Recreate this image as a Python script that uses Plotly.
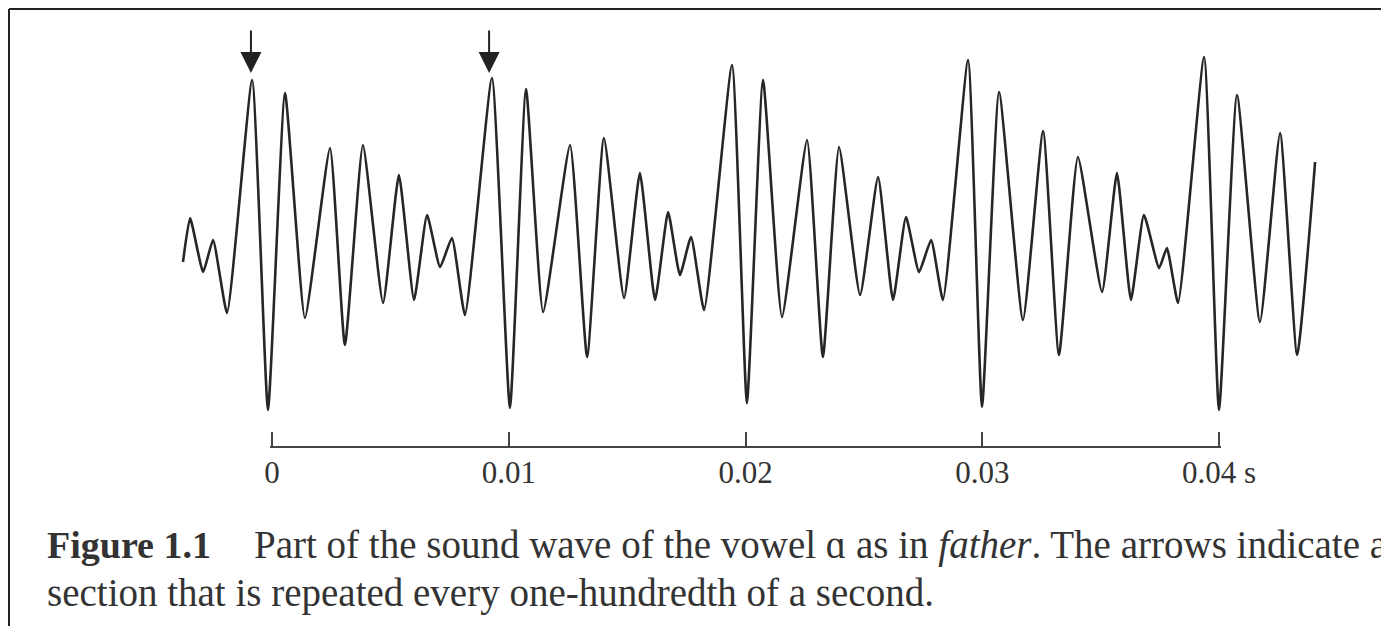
import plotly.graph_objects as go

# ---- data ----
# time of successive turning points of the waveform, in seconds
wave_time = [
    -0.00376, -0.00346, -0.00291, -0.00249, -0.00190, -0.00084, -0.00017, 0.00055,
    0.00139, 0.00245, 0.00308, 0.00384, 0.00469, 0.00536, 0.00600, 0.00655,
    0.00710, 0.00760, 0.00815, 0.00929, 0.01005, 0.01073, 0.01145, 0.01259,
    0.01331, 0.01402, 0.01487, 0.01554, 0.01618, 0.01673, 0.01723, 0.01770,
    0.01825, 0.01943, 0.02006, 0.02074, 0.02154, 0.02260, 0.02327, 0.02395,
    0.02484, 0.02560, 0.02623, 0.02678, 0.02733, 0.02784, 0.02834, 0.02940,
    0.02999, 0.03071, 0.03172, 0.03257, 0.03324, 0.03404, 0.03506, 0.03569,
    0.03628, 0.03683, 0.03747, 0.03780, 0.03827, 0.03937, 0.04000, 0.04076,
    0.04173, 0.04258, 0.04330, 0.04406,
]
# amplitude at those points (arbitrary units)
wave_amp = [
    -17, 27, -27, 5, -68, 165, -165, 152,
    -73, 97, -100, 100, -58, 70, -55, 30,
    -22, 7, -70, 167, -163, 156, -67, 100,
    -112, 107, -53, 72, -55, 33, -30, 8,
    -65, 180, -158, 165, -72, 105, -112, 98,
    -50, 68, -55, 28, -27, 5, -55, 185,
    -162, 153, -75, 114, -110, 88, -47, 72,
    -55, 30, -23, -3, -58, 188, -165, 150,
    -77, 112, -110, 83,
]
tick_values = [0.0, 0.01, 0.02, 0.03, 0.04]
tick_labels = ["0", "0.01", "0.02", "0.03", "0.04 s"]
arrow_times = [-0.00089, 0.00917]
arrow_amp = 172

caption_label = "Figure 1.1"
caption_line1 = "Part of the sound wave of the vowel \u0251 as in <i>father</i>. The arrows indicate a"
caption_line2 = "section that is repeated every one-hundredth of a second."

# ---- figure geometry (page body has an 8px margin) ----
OFF = 8
W, H = 1389 - OFF, 626 - OFF
INK = "#262626"
FONT = "Liberation Serif, Times New Roman, serif"

px_per_s = 23675.0          # horizontal pixels per second
x0_px = 272.0 - OFF         # pixel of t = 0
amp_top = 245.0 - OFF       # amplitude at the top edge (1 unit = 1 px)
axis_y_px = 447.0 - OFF
pad_s = 2.0 / px_per_s      # a little slack so the end ticks are drawn


def py(sy):
    """paper y for a screen-pixel y"""
    return 1 - (sy - OFF) / H


def px(sx):
    return (sx - OFF) / W


fig = go.Figure()
fig.add_trace(go.Scatter(
    x=wave_time, y=wave_amp, mode="lines",
    line=dict(color=INK, width=2.6, shape="spline", smoothing=0.45),
    hoverinfo="skip", showlegend=False,
))
# carrier trace for the time axis
fig.add_trace(go.Scatter(
    x=[tick_values[0], tick_values[-1]], y=[None, None], mode="lines",
    xaxis="x2", yaxis="y", hoverinfo="skip", showlegend=False,
))

for t in arrow_times:
    fig.add_annotation(
        x=t, y=arrow_amp, xref="x", yref="y", text="",
        showarrow=True, arrowhead=2, arrowsize=2.1, arrowwidth=2,
        arrowcolor="#222222", ax=0, ay=-44,
    )

t_lo = tick_values[0] - pad_s
t_hi = tick_values[-1] + pad_s
fig.update_layout(
    width=W, height=H,
    margin=dict(l=0, r=0, t=0, b=0, pad=0, autoexpand=False),
    paper_bgcolor="white", plot_bgcolor="rgba(0,0,0,0)",
    xaxis=dict(range=[-x0_px / px_per_s, (W - x0_px) / px_per_s],
               visible=False, showgrid=False, zeroline=False, automargin=False),
    yaxis=dict(range=[amp_top - H, amp_top], visible=False,
               showgrid=False, zeroline=False, automargin=False),
    xaxis2=dict(
        domain=[(x0_px + t_lo * px_per_s) / W, (x0_px + t_hi * px_per_s) / W],
        range=[t_lo, t_hi], anchor="free", position=1 - axis_y_px / H,
        showline=True, linecolor="#444444", linewidth=2,
        ticks="inside", ticklen=14, tickwidth=2, tickcolor="#444444",
        tickvals=tick_values, ticktext=tick_labels,
        tickfont=dict(family=FONT, size=31, color="#333333"),
        ticklabelstandoff=-2, automargin=False,
        showgrid=False, zeroline=False,
    ),
    showlegend=False,
)

# frame lines (top and left)
fig.add_shape(type="line", xref="paper", yref="paper",
              x0=1 / W, x1=1.0, y0=1 - 1 / H, y1=1 - 1 / H,
              line=dict(color="#222222", width=2))
fig.add_shape(type="line", xref="paper", yref="paper",
              x0=1 / W, x1=1 / W, y0=1 - 1 / H, y1=0,
              line=dict(color="#222222", width=2))

# caption
cap_font = dict(family=FONT, size=39, color="#333333")
fig.add_annotation(x=px(45), y=py(545), xref="paper", yref="paper",
                   text="<b>" + caption_label + "</b>", showarrow=False,
                   xanchor="left", yanchor="middle",
                   font=dict(family=FONT, size=38, color="#333333"))
fig.add_annotation(x=px(252), y=py(545), xref="paper", yref="paper",
                   text=caption_line1, showarrow=False,
                   xanchor="left", yanchor="middle", font=cap_font)
fig.add_annotation(x=px(45), y=py(593), xref="paper", yref="paper",
                   text=caption_line2, showarrow=False,
                   xanchor="left", yanchor="middle", font=cap_font)

fig.write_html("out.html")
